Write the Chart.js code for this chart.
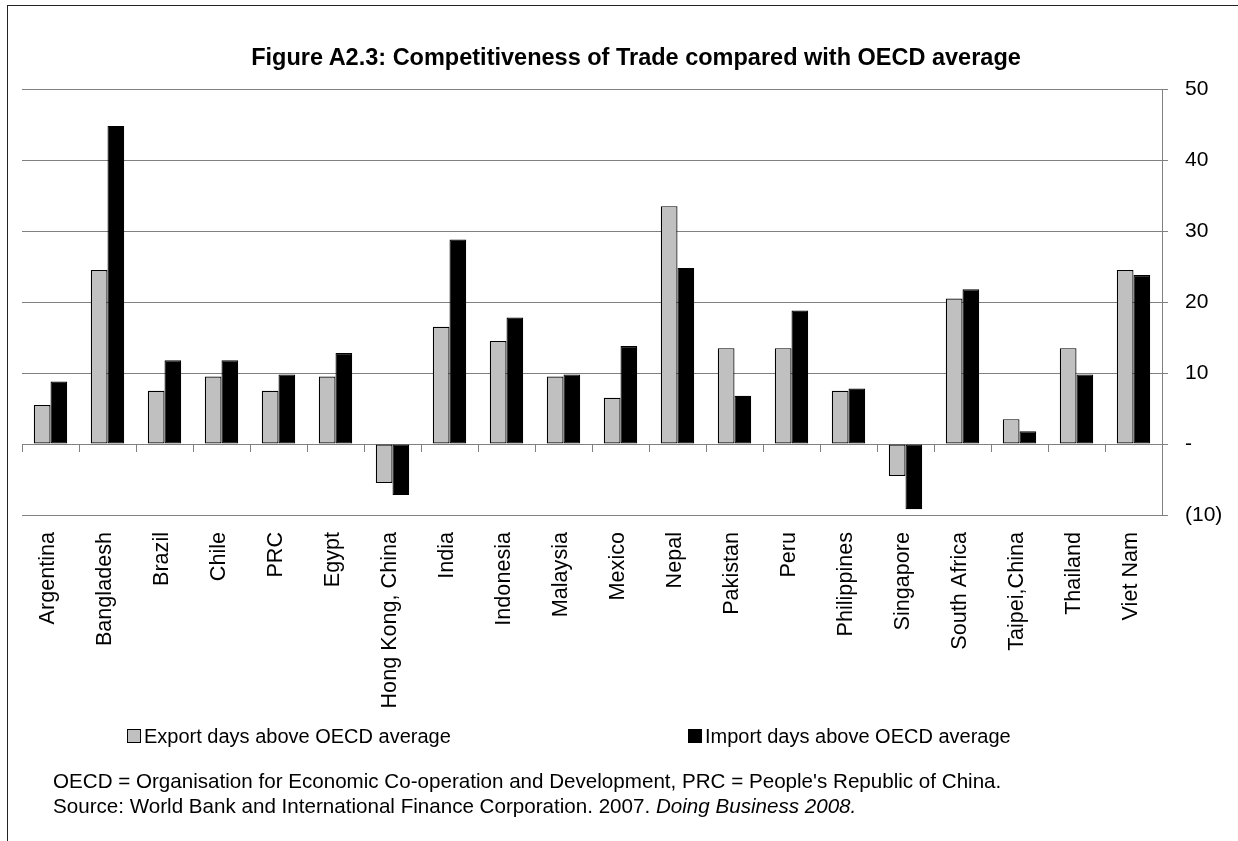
<!DOCTYPE html>
<html>
<head>
<meta charset="utf-8">
<script src="https://cdn.jsdelivr.net/npm/chart.js@4.4.1/dist/chart.umd.min.js"></script>
<style>
  html, body { margin: 0; padding: 0; background: #fff; }
  body { width: 1238px; height: 841px; position: relative; overflow: hidden;
         font-family: "Liberation Sans", Arial, sans-serif; color: #000; }
  #frameTop { position: absolute; left: 7px; top: 5px; width: 1231px; height: 0; border-top: 1.5px solid #222; }
  #frameLeft { position: absolute; left: 7px; top: 5px; width: 0; height: 836px; border-left: 1.5px solid #222; }
  #wrap { position: absolute; left: 0; top: 0; width: 1238px; height: 841px; }
  .txt { position: absolute; white-space: nowrap; line-height: 1; }
  #title { font-weight: bold; font-size: 23.5px; left: 636px; top: 46px; transform: translateX(-50%); }
  .legItem { position: absolute; top: 726px; font-size: 20px; line-height: 1; white-space: nowrap; }
  .swatch { position: absolute; width: 12px; height: 12px; border: 1px solid #000; top: 3px; left: 0; }
  .legItem span.lab { position: absolute; left: 17px; top: 0; }
  .note { font-size: 20.6px; left: 53px; }
</style>
</head>
<body>
<div id="frameTop"></div>
<div id="frameLeft"></div>
<div id="wrap"><canvas id="chart" width="1238" height="841"></canvas></div>
<div id="title" class="txt">Figure A2.3: Competitiveness of Trade compared with OECD average</div>
<div class="legItem" style="left:127px"><div class="swatch" style="background:#c0c0c0"></div><span class="lab">Export days above OECD average</span></div>
<div class="legItem" style="left:688px"><div class="swatch" style="background:#000"></div><span class="lab">Import days above OECD average</span></div>
<div class="txt note" style="top:771px">OECD = Organisation for Economic Co-operation and Development, PRC = People's Republic of China.</div>
<div class="txt note" style="top:796px">Source: World Bank and International Finance Corporation. 2007. <i>Doing Business 2008.</i></div>
<script>
// Days to export / import minus the OECD average
const countries = ["Argentina", "Bangladesh", "Brazil", "Chile", "PRC", "Egypt", "Hong Kong, China",
  "India", "Indonesia", "Malaysia", "Mexico", "Nepal", "Pakistan", "Peru", "Philippines",
  "Singapore", "South Africa", "Taipei,China", "Thailand", "Viet Nam"];
const exportDays = [5.5, 24.5, 7.5, 9.5, 7.5, 9.5, -5.5, 16.5, 14.5, 9.5, 6.5, 33.5, 13.5, 13.5, 7.5, -4.5, 20.5, 3.5, 13.5, 24.5];
const importDays = [8.8, 44.8, 11.8, 11.8, 9.8, 12.8, -7.2, 28.8, 17.8, 9.8, 13.8, 24.8, 6.8, 18.8, 7.8, -9.2, 21.8, 1.8, 9.8, 23.8];
const seriesNames = ["Export days above OECD average", "Import days above OECD average"];
const yTicks = [-10, 0, 10, 20, 30, 40, 50];

// accounting-style axis numbers: negatives in brackets, zero as a dash
function fmt(v) {
  if (v === 0) return "-";
  return v < 0 ? "(" + Math.abs(v) + ")" : String(v);
}

const FONT = "'Liberation Sans', Arial, sans-serif";
const GRID = "#808080";

new Chart(document.getElementById("chart"), {
  type: "bar",
  data: {
    labels: countries,
    datasets: [
      { label: seriesNames[0], data: exportDays, backgroundColor: "#c0c0c0", borderColor: "#000",
        borderWidth: 1.2, borderSkipped: false, categoryPercentage: 0.586, barPercentage: 1.0 },
      { label: seriesNames[1], data: importDays, backgroundColor: "#000", borderColor: "#000",
        borderWidth: 1.2, borderSkipped: false, categoryPercentage: 0.586, barPercentage: 1.0 }
    ]
  },
  options: {
    responsive: false,
    animation: false,
    devicePixelRatio: 1,
    layout: { padding: { left: 22, top: 89, right: 0, bottom: 0 } },
    plugins: { legend: { display: false }, title: { display: false }, tooltip: { enabled: false } },
    scales: {
      x: {
        type: "category",
        position: "bottom",
        offset: true,
        grid: { display: false, drawTicks: false },
        border: { display: false },
        afterFit: s => { s.height = 326; },
        ticks: {
          autoSkip: false, maxRotation: 90, minRotation: 90, padding: 17, labelOffset: -2,
          color: "#000", font: { family: FONT, size: 21.6 }
        }
      },
      xz: {
        type: "category",
        labels: countries,
        position: { y: 0 },
        offset: true,
        grid: { offset: true, drawOnChartArea: false, drawTicks: true, tickLength: 7, color: GRID, lineWidth: 1 },
        border: { display: true, color: GRID, width: 1 },
        ticks: { display: false, autoSkip: false }
      },
      y: {
        position: "right",
        min: -10, max: 50,
        afterBuildTicks: s => { s.ticks = yTicks.map(v => ({ value: v })); },
        afterFit: s => { s.width = 76; },
        grid: { color: GRID, lineWidth: 1, drawTicks: true, tickLength: 6 },
        border: { display: true, color: GRID, width: 1 },
        ticks: { padding: 17, color: "#000", font: { family: FONT, size: 21 }, callback: v => fmt(v) }
      }
    }
  }
});
</script>
</body>
</html>
